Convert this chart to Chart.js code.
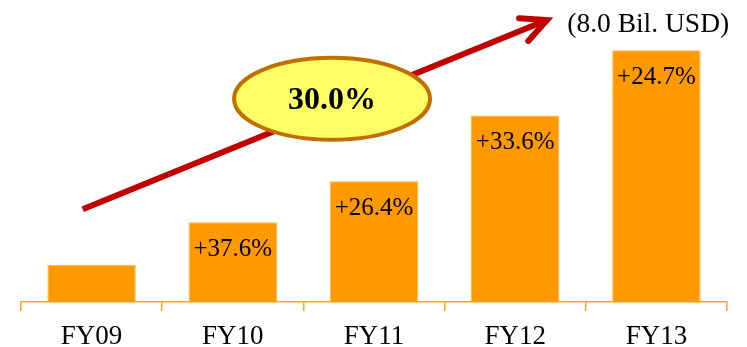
<!DOCTYPE html>
<html>
<head>
<meta charset="utf-8">
<script src="https://cdn.jsdelivr.net/npm/chart.js@4/dist/chart.umd.min.js"></script>
<style>
  html, body { margin: 0; padding: 0; background: #ffffff; }
  #wrap { width: 747px; height: 347px; position: relative; }
</style>
</head>
<body>
<div id="wrap"><canvas id="chart"></canvas></div>
<script>
// Revenue by fiscal year (billion USD) and year-on-year growth labels
const fiscalYears = ['FY09', 'FY10', 'FY11', 'FY12', 'FY13'];
const revenue = [2.76, 3.80, 4.80, 6.41, 8.0];
const growthLabels = ['', '+37.6%', '+26.4%', '+33.6%', '+24.7%'];
const cagrLabel = '30.0%';
const unitLabel = '(8.0 Bil. USD)';

// Trend arrow, badge and unit note positions in data space [category index, value]
const arrowFrom = [-0.063, 4.115];
const arrowTo = [3.225, 8.74];
const badgeAt = [1.703, 6.816];
const unitAt = [3.942, 8.62];

const serif = '"Liberation Serif", "Times New Roman", serif';

const overlay = {
  id: 'overlay',
  afterDatasetsDraw(chart) {
    const { ctx, scales: { x, y } } = chart;
    const px = p => [x.getPixelForValue(p[0]), y.getPixelForValue(p[1])];

    // growth labels inside the top of each bar
    const meta = chart.getDatasetMeta(0);
    ctx.save();
    ctx.fillStyle = '#000000';
    ctx.font = '25px ' + serif;
    ctx.textAlign = 'center';
    ctx.textBaseline = 'middle';
    meta.data.forEach((bar, i) => {
      if (growthLabels[i]) ctx.fillText(growthLabels[i], bar.x, bar.y + 27);
    });
    ctx.restore();

    // trend arrow
    const [x0, y0] = px(arrowFrom);
    const [x1, y1] = px(arrowTo);
    const ang = Math.atan2(y1 - y0, x1 - x0);
    const head = 28, spread = 26 * Math.PI / 180;
    ctx.save();
    ctx.strokeStyle = '#C00000';
    ctx.lineWidth = 6;
    ctx.beginPath();
    ctx.moveTo(x0, y0);
    ctx.lineTo(x1, y1);
    ctx.stroke();
    ctx.lineCap = 'round';
    ctx.beginPath();
    ctx.moveTo(x1 - head * Math.cos(ang - spread), y1 - head * Math.sin(ang - spread));
    ctx.lineTo(x1, y1);
    ctx.lineTo(x1 - head * Math.cos(ang + spread), y1 - head * Math.sin(ang + spread));
    ctx.stroke();
    ctx.restore();

    // growth-rate badge
    const [bx, by] = px(badgeAt);
    ctx.save();
    ctx.beginPath();
    ctx.ellipse(bx, by, 98, 41, 0, 0, Math.PI * 2);
    ctx.fillStyle = '#FFFF66';
    ctx.fill();
    ctx.lineWidth = 4;
    ctx.strokeStyle = '#BF7000';
    ctx.stroke();
    ctx.fillStyle = '#000000';
    ctx.font = 'bold 32px ' + serif;
    ctx.textAlign = 'center';
    ctx.textBaseline = 'middle';
    ctx.fillText(cagrLabel, bx, by + 2);
    ctx.restore();

    // unit note
    const [ux, uy] = px(unitAt);
    ctx.save();
    ctx.fillStyle = '#000000';
    ctx.font = '27.5px ' + serif;
    ctx.textAlign = 'center';
    ctx.textBaseline = 'middle';
    ctx.fillText(unitLabel, ux, uy);
    ctx.restore();
  }
};

new Chart(document.getElementById('chart'), {
  type: 'bar',
  data: {
    labels: fiscalYears,
    datasets: [{
      data: revenue,
      backgroundColor: '#FF9900',
      borderColor: '#FFB347',
      borderWidth: 1,
      borderSkipped: 'bottom',
      categoryPercentage: 1.0,
      barPercentage: 0.626
    }]
  },
  options: {
    responsive: true,
    maintainAspectRatio: false,
    animation: false,
    layout: { padding: { left: 21, right: 20, top: 0, bottom: 0 } },
    plugins: { legend: { display: false }, tooltip: { enabled: false } },
    scales: {
      x: {
        afterFit(scale) { scale.height = 45; },
        border: { display: true, color: '#FFA526', width: 1.5 },
        grid: {
          offset: true,
          drawOnChartArea: false,
          drawTicks: true,
          tickLength: 9,
          color: '#FFA526',
          lineWidth: 1.5
        },
        ticks: {
          color: '#000000',
          padding: 10,
          font: { family: serif, size: 27, lineHeight: 1.2 }
        }
      },
      y: {
        display: false,
        min: 1.85,
        max: 9.23
      }
    }
  },
  plugins: [overlay]
});
</script>
</body>
</html>
